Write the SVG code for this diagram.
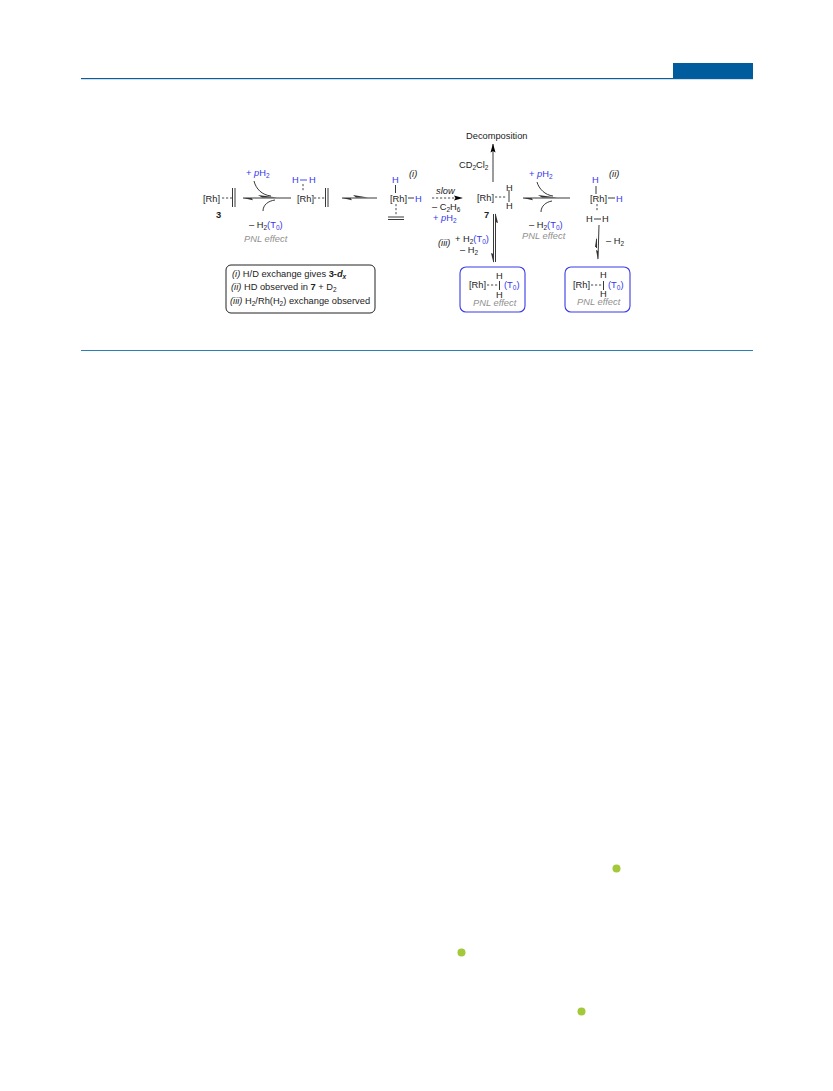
<svg xmlns="http://www.w3.org/2000/svg" width="833" height="1091" viewBox="0 0 833 1091">
<defs>
<marker id="ah" markerUnits="userSpaceOnUse" markerWidth="9" markerHeight="6" refX="8.500" refY="3" orient="auto"><path d="M0,0.500L9,3L0,5.500L1.500,3Z" fill="#000"/></marker>
</defs>
<style>
text{font-family:"Liberation Sans",Arial,sans-serif;font-size:9.300px;fill:#222}
.b{fill:#3535ee}
.g{fill:#8f8f8f;font-style:italic}
.i{font-style:italic}
.bd{font-weight:bold}
.s{font-size:6.500px}
.l{stroke:#222;stroke-width:.9;fill:none}
.d{stroke:#333;stroke-width:.9;fill:none;stroke-dasharray:2.200 1.800}
.bl{stroke:#3535ee;stroke-width:.9;fill:none}
.ha{fill:#333}
.box{fill:#fff;stroke:#3a3ae6;stroke-width:1.100}
.dot{fill:#a3c93a}
</style>
<rect width="833" height="1091" fill="#fff"/>
<g id="page-frame">
<rect x="81" y="78" width="672" height="1.200" fill="#0a5e9a"/>
<rect x="673" y="63" width="80" height="15" fill="#005c9c"/>
<rect x="81" y="350" width="672" height="1" fill="#2a7fb5"/>
<circle cx="616.500" cy="868.500" r="4" class="dot"/>
<circle cx="461.500" cy="952.500" r="4" class="dot"/>
<circle cx="581.500" cy="1011.500" r="4" class="dot"/>
</g>
<g id="connectors">
<path class="l" d="M243,198H291"/><path class="ha" d="M243,198l10,2.200l-1.500,-2.200Z"/><path class="ha" d="M277,197.500L258,195L262,197.500Z"/>
<path class="l" d="M254,181C256,189 262,195 271,196"/>
<path class="l" d="M263,211C263,205 268,201 275,200"/>
<path class="l" d="M342,198H377"/><path class="ha" d="M342,198l10,2.200l-1.500,-2.200Z"/><path class="ha" d="M368,197.500L353,195L356,197.500Z"/>
<path class="d" d="M432,198H456"/><path d="M463,198L454,195.500L455.500,198L454,200.500Z" fill="#000"/>
<path class="l" d="M493,182V144" marker-end="url(#ah)"/>
<path class="l" d="M523,198H570"/><path class="ha" d="M523,198l10,2.200l-1.500,-2.200Z"/><path class="ha" d="M557,197.500L538,195L542,197.500Z"/>
<path class="l" d="M537,182C539,189 545,195 553,196"/>
<path class="l" d="M541,212C541,206 546,202 552,201"/>
<path class="l" d="M495.500,262V214"/><path class="ha" d="M495.500,213L498,223L495.500,222Z"/>
<path class="l" d="M493.500,214V262"/><path class="ha" d="M493.500,263L491,253L493.500,254Z"/>
<path class="l" d="M599,225L598,259"/><path class="ha" d="M598,260L596,250L598.200,251Z"/>
<path class="l" d="M596.500,248V239"/><path class="ha" d="M596.500,237L595,247L597,247Z"/>
</g>
<g id="node-3">
<text x="203" y="202">[Rh]</text>
<path class="d" d="M222,198H232"/>
<path class="l" d="M232.500,188V207M235,188V207"/>
<text x="216" y="218" class="bd">3</text>
</g>
<g id="label-add-pH2-1"><text x="246" y="176" class="b">+ <tspan font-style="italic">p</tspan>H<tspan class="s" dy="2">2</tspan></text></g>
<g id="label-loss-1">
<text x="249" y="228">– H<tspan class="s" dy="2">2</tspan><tspan class="b" dy="-2">(T</tspan><tspan class="b s" dy="2">0</tspan><tspan class="b" dy="-2">)</tspan></text>
<text x="244" y="242" class="g">PNL effect</text>
</g>
<g id="node-dihydrogen">
<text x="292" y="183" class="b">H</text><path class="bl" d="M300,180H307"/><text x="309" y="183" class="b">H</text>
<path class="d" d="M303,184V192"/>
<text x="297" y="202">[Rh]</text>
<path class="d" d="M314,198H325"/>
<path class="l" d="M325.500,188V207M328,188V207"/>
</g>
<g id="node-i">
<text x="392" y="183" class="b">H</text>
<path class="l" d="M395.500,185V193"/>
<text x="390" y="202">[Rh]</text>
<path class="l" d="M408,198H414"/><text x="415" y="202" class="b">H</text>
<path class="d" d="M396,204V216"/>
<path class="l" d="M388,217H404M388,219.500H404"/>
<text x="409" y="177" class="i">(i)</text>
</g>
<g id="label-slow">
<text x="436" y="194" class="i">slow</text>
<text x="432" y="210">– C<tspan class="s" dy="2">2</tspan><tspan dy="-2">H</tspan><tspan class="s" dy="2">6</tspan></text>
<text x="433" y="221" class="b">+ <tspan font-style="italic">p</tspan>H<tspan class="s" dy="2">2</tspan></text>
</g>
<g id="node-decomposition"><text x="466" y="139">Decomposition</text></g>
<g id="label-cd2cl2"><text x="459" y="168">CD<tspan class="s" dy="2">2</tspan><tspan dy="-2">Cl</tspan><tspan class="s" dy="2">2</tspan></text></g>
<g id="node-7">
<text x="477" y="200.500">[Rh]</text>
<path class="d" d="M495,197H507"/>
<path class="l" d="M509,190V202"/>
<text x="506" y="191">H</text><text x="506" y="209">H</text>
<text x="484" y="218" class="bd">7</text>
</g>
<g id="label-add-pH2-2"><text x="529" y="177" class="b">+ <tspan font-style="italic">p</tspan>H<tspan class="s" dy="2">2</tspan></text></g>
<g id="label-loss-2">
<text x="529" y="228">– H<tspan class="s" dy="2">2</tspan><tspan dy="-2" class="b">(T</tspan><tspan class="b s" dy="2">0</tspan><tspan class="b" dy="-2">)</tspan></text>
<text x="522" y="239" class="g">PNL effect</text>
</g>
<g id="node-ii">
<text x="592" y="183" class="b">H</text>
<path class="l" d="M596,186V194"/>
<text x="590" y="202">[Rh]</text>
<path class="l" d="M608,198H615"/><text x="616" y="202" class="b">H</text>
<path class="d" d="M597,204V212"/>
<text x="586" y="222">H</text><path class="l" d="M594,219H601"/><text x="602" y="222">H</text>
<text x="609" y="177" class="i">(ii)</text>
</g>
<g id="label-loss-3"><text x="606" y="244">– H<tspan class="s" dy="2">2</tspan></text></g>
<g id="label-iii">
<text x="438" y="246" class="i">(iii)</text>
<text x="455" y="242">+ H<tspan class="s" dy="2">2</tspan><tspan dy="-2" class="b">(T</tspan><tspan class="b s" dy="2">0</tspan><tspan class="b" dy="-2">)</tspan></text>
<text x="460" y="253">– H<tspan class="s" dy="2">2</tspan></text>
</g>
<g id="note">
<rect x="226" y="265" width="149" height="48" rx="5" fill="#fff" stroke="#222"/>
<text x="232" y="277"><tspan font-style="italic">(i)</tspan> H/D exchange gives <tspan font-weight="bold">3-<tspan font-style="italic">d</tspan><tspan class="s" dy="2" font-style="italic">x</tspan></tspan></text>
<text x="231" y="290"><tspan font-style="italic">(ii)</tspan> HD observed in <tspan font-weight="bold">7</tspan> + D<tspan class="s" dy="2">2</tspan></text>
<text x="230" y="304"><tspan font-style="italic">(iii)</tspan> H<tspan class="s" dy="2">2</tspan><tspan dy="-2">/Rh(H</tspan><tspan class="s" dy="2">2</tspan><tspan dy="-2">) exchange observed</tspan></text>
</g>
<g id="box-left">
<rect x="460" y="267" width="65" height="45" rx="6" class="box"/>
<text x="496" y="279">H</text><text x="496" y="298">H</text>
<text x="469" y="288">[Rh]</text>
<path class="d" d="M487,285H498"/><path class="l" d="M499.500,281V290"/>
<text x="504" y="288" class="b">(T<tspan class="s" dy="2">0</tspan><tspan dy="-2">)</tspan></text>
<text x="473" y="306" class="g">PNL effect</text>
</g>
<g id="box-right">
<rect x="565" y="267" width="65" height="45" rx="6" class="box"/>
<text x="600" y="278">H</text><text x="600" y="297">H</text>
<text x="573" y="288">[Rh]</text>
<path class="d" d="M591,285H602"/><path class="l" d="M603.500,281V290"/>
<text x="608" y="288" class="b">(T<tspan class="s" dy="2">0</tspan><tspan dy="-2">)</tspan></text>
<text x="577" y="305" class="g">PNL effect</text>
</g>
</svg>
